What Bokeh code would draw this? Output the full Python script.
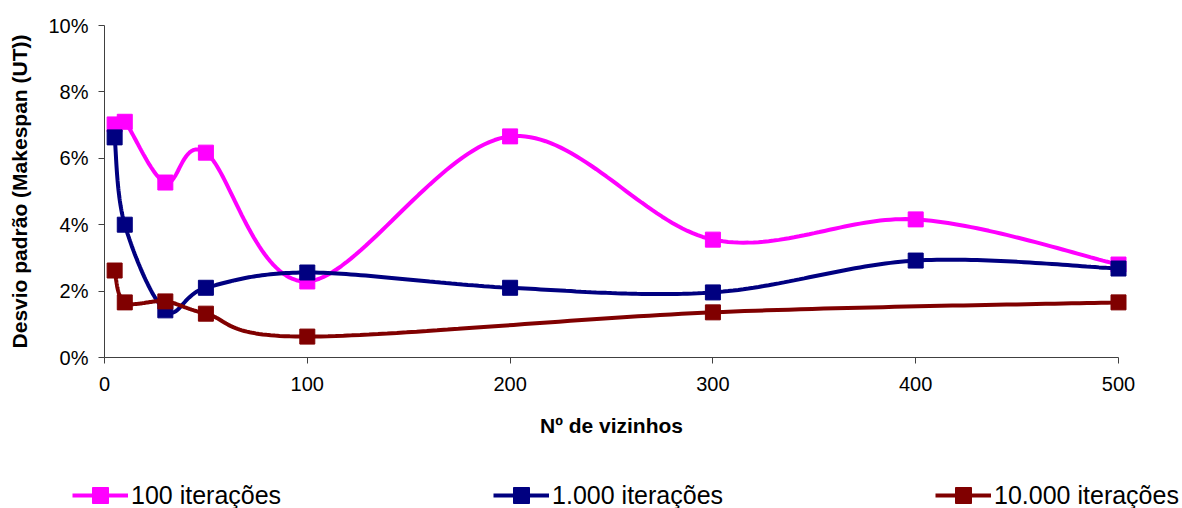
from bokeh.plotting import figure
from bokeh.models import Legend, LegendItem, NumeralTickFormatter, FixedTicker, Range1d
from bokeh.embed import file_html
from bokeh.resources import INLINE

# ---- data ----
vizinhos = [5, 10, 30, 50, 100, 200, 300, 400, 500]
it100 = [0.0702, 0.0710, 0.0527, 0.0617, 0.0229, 0.0666, 0.0355, 0.0416, 0.0280]
it1000 = [0.0663, 0.0400, 0.0142, 0.0210, 0.0256, 0.0210, 0.0196, 0.0292, 0.0268]
vizinhos_10000 = [5, 10, 30, 50, 100, 300, 500]
it10000 = [0.0262, 0.0166, 0.0169, 0.0132, 0.0063, 0.0136, 0.0166]
labels = ["100 iterações", "1.000 iterações", "10.000 iterações"]
colors = ["#FF00FF", "#000080", "#800000"]
y_ticks = [0.0, 0.02, 0.04, 0.06, 0.08, 0.10]
x_ticks = [0, 100, 200, 300, 400, 500]


def smooth(xs, ys, n=40):
    """Bezier smoothing through the points (Catmull-Rom control points)."""
    pts = list(zip(xs, ys))
    m = len(pts)
    ox, oy = [], []
    for i in range(m - 1):
        p0 = pts[i - 1] if i > 0 else pts[i]
        p1 = pts[i]
        p2 = pts[i + 1]
        p3 = pts[i + 2] if i + 2 < m else pts[i + 1]
        c1 = (p1[0] + (p2[0] - p0[0]) / 6, p1[1] + (p2[1] - p0[1]) / 6)
        c2 = (p2[0] - (p3[0] - p1[0]) / 6, p2[1] - (p3[1] - p1[1]) / 6)
        for k in range(n + 1):
            if i > 0 and k == 0:
                continue
            t = k / n
            a = (1 - t) ** 3
            b = 3 * (1 - t) ** 2 * t
            c = 3 * (1 - t) * t ** 2
            d = t ** 3
            ox.append(a * p1[0] + b * c1[0] + c * c2[0] + d * p2[0])
            oy.append(a * p1[1] + b * c1[1] + c * c2[1] + d * p2[1])
    return ox, oy


FONT = "Liberation Sans"

# canvas layout (pixels): plot area left/right/top/bottom inside a 1182x508 canvas
W, H = 1182, 508
PL, PR, PT, PB = 104, 1118, 25, 357
X0, X1 = x_ticks[0], x_ticks[-1]
Y0, Y1 = y_ticks[0], y_ticks[-1]
xs_per_px = (X1 - X0) / (PR - PL)
ys_per_px = (Y1 - Y0) / (PB - PT)
x_range = Range1d(X0 - PL * xs_per_px, X1 + (W - PR) * xs_per_px)
y_range = Range1d(Y0 - (H - PB) * ys_per_px, Y1 + PT * ys_per_px)

p = figure(width=W, height=H, output_backend="svg", toolbar_location=None,
           x_range=x_range, y_range=y_range,
           min_border_left=0, min_border_right=0, min_border_top=0, min_border_bottom=0)
p.outline_line_color = None
p.xgrid.visible = False
p.ygrid.visible = False
p.background_fill_color = "white"

for ax in (p.xaxis[0], p.yaxis[0]):
    ax.fixed_location = 0
    ax.axis_line_color = "#404040"
    ax.major_tick_line_color = "#404040"
    ax.major_tick_out = 6
    ax.major_tick_in = 0
    ax.minor_tick_out = 0
    ax.minor_tick_in = 0
    ax.major_label_text_font = FONT
    ax.major_label_text_font_size = "20px"
    ax.major_label_text_color = "black"
    ax.axis_label_text_font = FONT
    ax.axis_label_text_font_size = "21px"
    ax.axis_label_text_font_style = "bold"
    ax.axis_label_text_color = "black"

p.xaxis.bounds = (X0, X1)
p.yaxis.bounds = (Y0, Y1)
p.xaxis.ticker = FixedTicker(ticks=x_ticks)
p.yaxis.ticker = FixedTicker(ticks=y_ticks)
p.yaxis.formatter = NumeralTickFormatter(format="0%")
p.xaxis.axis_label = "Nº de vizinhos"
p.yaxis.axis_label = "Desvio padrão (Makespan (UT))"
p.xaxis.major_label_standoff = 13
p.xaxis.axis_label_standoff = 20
p.yaxis.major_label_standoff = 10
p.yaxis.axis_label_standoff = 14

series = [(vizinhos, it100), (vizinhos, it1000), (vizinhos_10000, it10000)]
items = []
for (xs, ys), col, lab in zip(series, colors, labels):
    sx, sy = smooth(xs, ys)
    lr = p.line(sx, sy, line_color=col, line_width=4)
    sr = p.scatter(xs, ys, marker="square", size=15, fill_color=col, line_color=col)
    items.append(LegendItem(label=lab, renderers=[lr, sr]))

lg = Legend(items=items, location=(72, -7), orientation="horizontal",
            glyph_width=56, glyph_height=40, label_standoff=3, spacing=212,
            padding=0, margin=0, border_line_color=None,
            background_fill_alpha=0, label_text_font=FONT,
            label_text_font_size="25px", label_text_color="black")
p.add_layout(lg, "center")

open("out.html", "w").write(file_html(p, INLINE))
